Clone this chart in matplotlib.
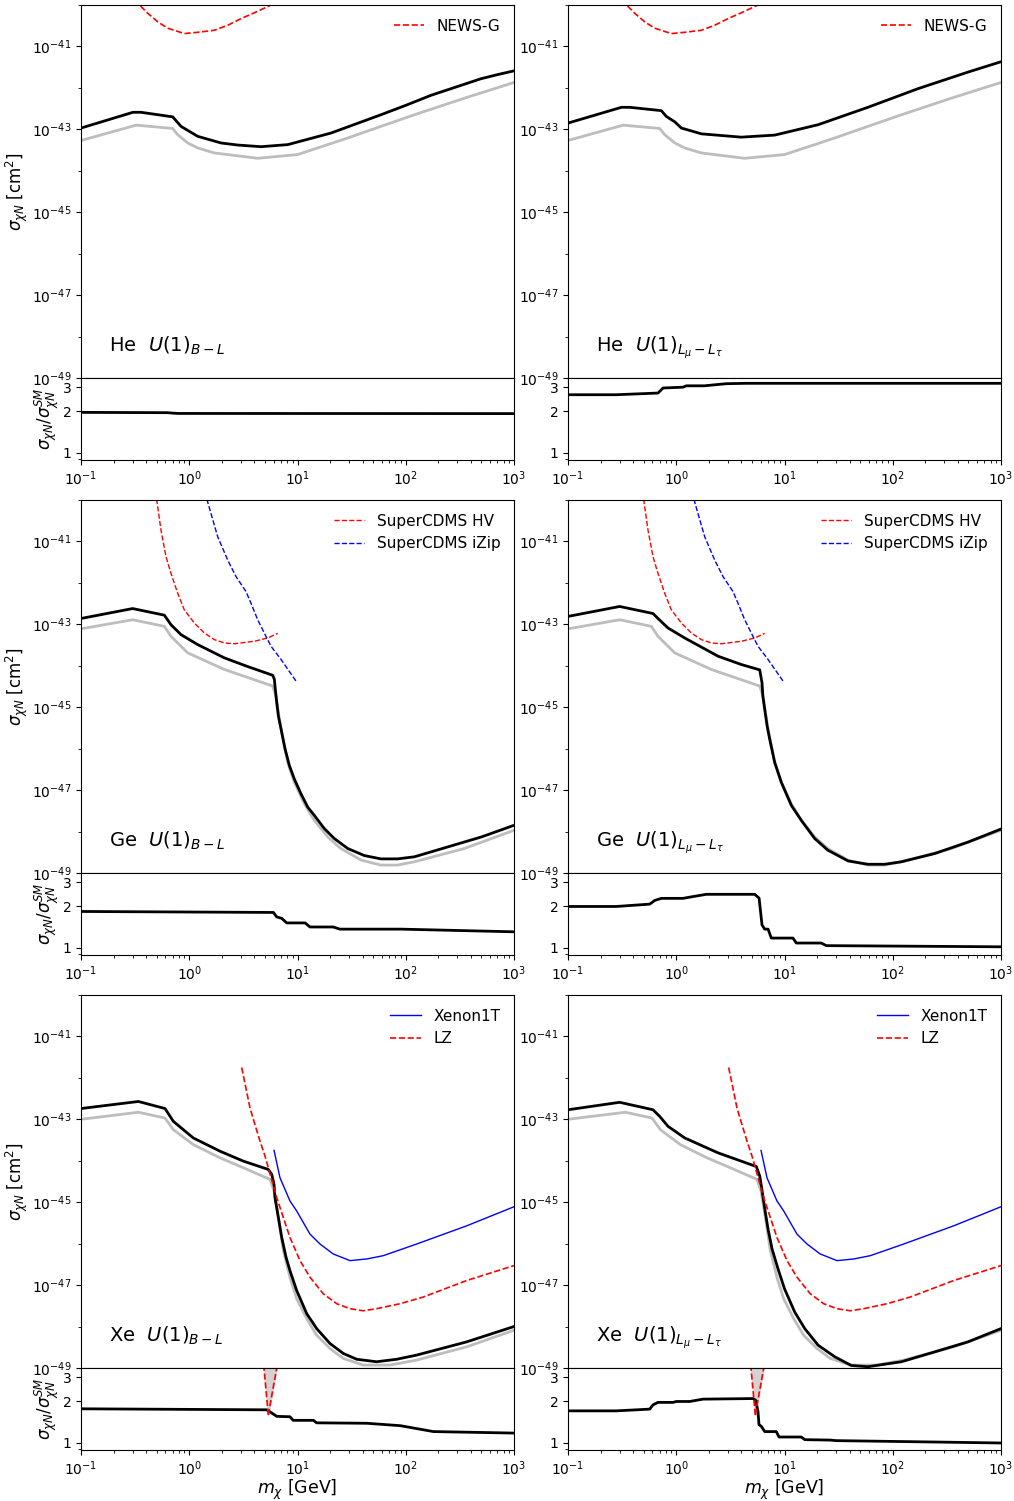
import numpy as np
import matplotlib
matplotlib.use('Agg')
import matplotlib.pyplot as plt
from matplotlib.gridspec import GridSpec
from matplotlib.ticker import NullFormatter, FixedLocator

# all curves stored as log10(m / GeV), log10(sigma / cm^2)

# ---- He ----
he_sm_logm = [-1.0, -0.49, -0.153, -0.107, -0.014, 0.078, 0.23, 0.632, 1.0, 1.464, 1.77, 2.08, 2.541, 3.0]
he_sm_logs = [-43.27, -42.90, -42.98, -43.13, -43.33, -43.45, -43.57, -43.70, -43.61, -43.21, -42.93, -42.65, -42.25, -41.87]

he_bl_logm = [-1.0, -0.52, -0.446, -0.153, -0.076, 0.078, 0.293, 0.447, 0.663, 0.91, 1.31, 1.54, 1.77, 2.002,
              2.233, 2.464, 2.695, 2.849, 3.0]
he_bl_logs = [-42.97, -42.59, -42.59, -42.70, -42.93, -43.17, -43.33, -43.38, -43.42, -43.37, -43.09, -42.87, -42.65, -42.42,
              -42.18, -41.98, -41.78, -41.68, -41.59]

he_lmt_logm = [-1.0, -0.507, -0.43, -0.138, -0.092, -0.014, 0.047, 0.232, 0.60, 0.91, 1.31, 1.77, 2.233, 2.695, 3.0]
he_lmt_logs = [-42.85, -42.47, -42.47, -42.55, -42.69, -42.82, -42.97, -43.11, -43.19, -43.14, -42.89, -42.47, -42.02, -41.62, -41.37]

newsg_logm = [-0.55, -0.452, -0.384, -0.29, -0.2, -0.046, 0.078, 0.232, 0.355, 0.478, 0.60, 0.74, 0.85]
newsg_logs = [-39.70, -40.02, -40.20, -40.41, -40.56, -40.69, -40.66, -40.61, -40.49, -40.33, -40.19, -40.02, -39.85]

he_bl_ratio_logm = [-1.0, -0.2, -0.15, -0.1, 3.0]
he_bl_ratio = [1.97, 1.96, 1.945, 1.935, 1.93]
he_lmt_ratio_logm = [-1.0, -0.554, -0.169, -0.122, 0.062, 0.093, 0.26, 0.46, 0.645, 3.0]
he_lmt_ratio = [2.645, 2.645, 2.72, 2.96, 3.0, 3.07, 3.07, 3.18, 3.2, 3.2]

# ---- Ge ----
ge_sm_logm = [-1.0, -0.523, -0.23, -0.169, -0.014, 0.324, 0.771, 0.80, 0.848, 0.909, 0.97, 1.063, 1.155,
              1.279, 1.40, 1.587, 1.77, 1.925, 2.08, 2.541, 3.0]
ge_sm_logs = [-43.11, -42.89, -43.05, -43.29, -43.69, -44.09, -44.49, -44.73, -45.53, -46.33, -46.81, -47.33, -47.73,
              -48.13, -48.41, -48.69, -48.81, -48.81, -48.73, -48.41, -47.97]

ge_bl_logm = [-1.0, -0.523, -0.23, -0.169, -0.076, 0.078, 0.324, 0.54, 0.771, 0.786, 0.795, 0.808, 0.823, 0.848,
              0.885, 0.925, 0.97, 1.032, 1.094, 1.155, 1.248, 1.34, 1.464, 1.617, 1.77, 1.925, 2.08, 2.39, 2.70, 3.0]
ge_bl_logs = [-42.86, -42.62, -42.78, -43.01, -43.25, -43.49, -43.81, -44.02, -44.23, -44.33, -44.57, -44.89, -45.21, -45.53,
              -46.01, -46.41, -46.73, -47.09, -47.41, -47.61, -47.93, -48.17, -48.41, -48.58, -48.66, -48.66, -48.61, -48.37, -48.13, -47.85]

ge_lmt_logm = [-1.0, -0.523, -0.215, -0.153, -0.076, 0.078, 0.386, 0.60, 0.771, 0.792, 0.80, 0.817, 0.839, 0.863,
               0.909, 0.97, 1.063, 1.155, 1.279, 1.40, 1.587, 1.77, 1.925, 2.08, 2.39, 2.70, 3.0]
ge_lmt_logs = [-42.81, -42.57, -42.74, -42.90, -43.09, -43.33, -43.77, -43.97, -44.10, -44.41, -44.73, -45.05, -45.45, -45.77,
               -46.33, -46.81, -47.37, -47.73, -48.17, -48.45, -48.71, -48.79, -48.79, -48.73, -48.53, -48.25, -47.94]

cdms_hv_logm = [-0.305, -0.298, -0.261, -0.215, -0.169, -0.107, -0.046, 0.047, 0.139, 0.232, 0.324, 0.416, 0.60, 0.725, 0.817]
cdms_hv_logs = [-39.80, -40.05, -40.73, -41.37, -41.77, -42.25, -42.65, -42.97, -43.21, -43.37, -43.45, -43.47, -43.41, -43.33, -43.22]

cdms_izip_logm = [0.16, 0.17, 0.263, 0.355, 0.432, 0.524, 0.57, 0.632, 0.693, 0.755, 0.848, 0.986]
cdms_izip_logs = [-39.80, -40.05, -40.89, -41.45, -41.85, -42.21, -42.49, -42.89, -43.21, -43.53, -43.85, -44.37]

ge_bl_ratio_logm = [-1.0, 0.777, 0.808, 0.854, 0.90, 1.07, 1.115, 1.33, 1.39, 1.95, 3.0]
ge_bl_ratio = [1.84, 1.81, 1.68, 1.64, 1.52, 1.52, 1.42, 1.42, 1.37, 1.37, 1.31]
ge_lmt_ratio_logm = [-1.0, -0.554, -0.245, -0.2, -0.138, 0.062, 0.155, 0.278, 0.725, 0.765, 0.777, 0.792,
                     0.817, 0.848, 0.878, 1.078, 1.109, 1.34, 1.386, 3.0]
ge_lmt_ratio = [2.0, 2.0, 2.08, 2.21, 2.29, 2.29, 2.36, 2.45, 2.45, 2.30, 1.89, 1.47,
                1.37, 1.37, 1.18, 1.18, 1.086, 1.086, 1.04, 1.02]

# ---- Xe ----
xe_sm_logm = [-1.0, -0.47, -0.224, -0.147, 0.037, 0.284, 0.5, 0.746, 0.783, 0.823, 0.869, 0.93, 0.992, 1.085,
              1.177, 1.30, 1.423, 1.608, 1.855, 2.10, 2.563, 3.0]
xe_sm_logs = [-43.0, -42.83, -42.97, -43.25, -43.61, -43.93, -44.17, -44.45, -44.73, -45.37, -46.17, -46.81, -47.33, -47.81,
              -48.21, -48.53, -48.77, -48.93, -48.93, -48.81, -48.49, -48.09]

xe_bl_logm = [-1.0, -0.47, -0.224, -0.147, 0.037, 0.284, 0.5, 0.73, 0.762, 0.783, 0.792, 0.823, 0.854, 0.894, 0.93,
              0.992, 1.085, 1.177, 1.30, 1.423, 1.547, 1.73, 1.916, 2.10, 2.563, 3.0]
xe_bl_logs = [-42.74, -42.57, -42.74, -43.05, -43.45, -43.77, -44.01, -44.21, -44.33, -44.57, -44.89, -45.37, -45.85, -46.33, -46.65,
              -47.13, -47.69, -48.05, -48.41, -48.65, -48.79, -48.85, -48.79, -48.69, -48.37, -48.0]

xe_lmt_logm = [-1.0, -0.523, -0.215, -0.153, -0.076, 0.078, 0.386, 0.74, 0.771, 0.786, 0.80, 0.823, 0.848, 0.885,
               0.94, 1.0, 1.094, 1.187, 1.31, 1.464, 1.617, 1.77, 1.925, 2.08, 2.39, 2.695, 3.0]
xe_lmt_logs = [-42.77, -42.59, -42.77, -42.93, -43.17, -43.45, -43.81, -44.14, -44.37, -44.61, -44.85, -45.25, -45.65, -46.13,
               -46.61, -47.09, -47.65, -48.05, -48.45, -48.73, -48.94, -48.97, -48.91, -48.85, -48.61, -48.37, -48.05]

lz_logm = [0.484, 0.53, 0.561, 0.607, 0.654, 0.70, 0.73, 0.808, 0.869, 0.93, 1.023, 1.115, 1.238, 1.362, 1.485,
           1.608, 1.73, 1.947, 2.16, 2.563, 3.0]
lz_logs = [-41.75, -42.33, -42.73, -43.13, -43.53, -43.89, -44.17, -44.89, -45.37, -45.85, -46.41, -46.81, -47.21, -47.45, -47.57,
           -47.62, -47.57, -47.45, -47.29, -46.89, -46.53]

xenon1t_logm = [0.783, 0.838, 0.93, 0.992, 1.115, 1.208, 1.33, 1.485, 1.64, 1.793, 2.10, 2.563, 3.0]
xenon1t_logs = [-43.75, -44.41, -44.97, -45.21, -45.77, -46.01, -46.25, -46.41, -46.37, -46.29, -46.01, -45.57, -45.11]

xe_bl_ratio_logm = [-1.0, 0.715, 0.762, 0.808, 0.93, 0.96, 1.146, 1.177, 1.64, 1.95, 2.255, 3.0]
xe_bl_ratio = [1.77, 1.74, 1.65, 1.56, 1.55, 1.46, 1.46, 1.40, 1.39, 1.335, 1.21, 1.18]
xe_lmt_ratio_logm = [-1.0, -0.554, -0.245, -0.215, -0.169, -0.03, 0.0, 0.124, 0.247, 0.709, 0.734, 0.755,
                     0.764, 0.786, 0.817, 0.924, 0.949, 1.155, 1.187, 1.418, 1.479, 2.25, 3.0]
xe_lmt_ratio = [1.71, 1.71, 1.76, 1.89, 1.97, 1.97, 2.0, 2.0, 2.08, 2.1, 2.04, 1.69,
                1.36, 1.32, 1.21, 1.21, 1.105, 1.105, 1.057, 1.05, 1.04, 1.02, 1.0]

# LZ edge band in the ratio panel
band_r = [1.6, 3.8]
band_m_lo = [5.37, 4.85]
band_m_hi = [5.37, 6.55]

panels = [
    # (element, sm, [(label, logm, logs, ratio_logm, ratio)], experiments, band)
    ('He', (he_sm_logm, he_sm_logs),
     [(r'$U(1)_{B-L}$', he_bl_logm, he_bl_logs, he_bl_ratio_logm, he_bl_ratio),
      (r'$U(1)_{L_\mu-L_\tau}$', he_lmt_logm, he_lmt_logs, he_lmt_ratio_logm, he_lmt_ratio)],
     [('NEWS-G', newsg_logm, newsg_logs, 'r', '--', 1.2)], False),
    ('Ge', (ge_sm_logm, ge_sm_logs),
     [(r'$U(1)_{B-L}$', ge_bl_logm, ge_bl_logs, ge_bl_ratio_logm, ge_bl_ratio),
      (r'$U(1)_{L_\mu-L_\tau}$', ge_lmt_logm, ge_lmt_logs, ge_lmt_ratio_logm, ge_lmt_ratio)],
     [('SuperCDMS HV', cdms_hv_logm, cdms_hv_logs, 'r', '--', 1.0),
      ('SuperCDMS iZip', cdms_izip_logm, cdms_izip_logs, 'b', '--', 1.0)], False),
    ('Xe', (xe_sm_logm, xe_sm_logs),
     [(r'$U(1)_{B-L}$', xe_bl_logm, xe_bl_logs, xe_bl_ratio_logm, xe_bl_ratio),
      (r'$U(1)_{L_\mu-L_\tau}$', xe_lmt_logm, xe_lmt_logs, xe_lmt_ratio_logm, xe_lmt_ratio)],
     [('Xenon1T', xenon1t_logm, xenon1t_logs, 'b', '-', 1.0),
      ('LZ', lz_logm, lz_logs, 'r', '--', 1.2)], True),
]

fig = plt.figure(figsize=(10.14, 15.01), dpi=100)
gs = GridSpec(8, 2, figure=fig, height_ratios=[373, 82, 40, 373, 82, 40, 373, 82],
              hspace=0, wspace=0.1247, left=0.0799, right=0.9872, top=0.9967, bottom=0.034)

for i, (elem, sm, models, exps, band) in enumerate(panels):
    for j, (mlabel, logm, logs, rlogm, rvals) in enumerate(models):
        ax = fig.add_subplot(gs[3 * i, j])
        axr = fig.add_subplot(gs[3 * i + 1, j], sharex=ax)

        ax.plot(10 ** np.array(sm[0]), 10 ** np.array(sm[1]), color='#bdbdbd', lw=2)
        ax.plot(10 ** np.array(logm), 10 ** np.array(logs), color='k', lw=2)
        for name, em, es, c, ls, lw in exps:
            ax.plot(10 ** np.array(em), 10 ** np.array(es), color=c, ls=ls, lw=lw, label=name)
        ax.set_xscale('log')
        ax.set_yscale('log')
        ax.set_xlim(0.1, 1000)
        ax.set_ylim(1e-49, 1e-40)
        ax.yaxis.set_major_locator(FixedLocator([1e-49, 1e-47, 1e-45, 1e-43, 1e-41]))
        ax.yaxis.set_minor_locator(FixedLocator([1e-48, 1e-46, 1e-44, 1e-42, 1e-40]))
        ax.yaxis.set_minor_formatter(NullFormatter())
        ax.tick_params(labelbottom=False)
        ax.legend(loc='upper right', frameon=False, fontsize=11)
        ax.text(0.065, 0.071, elem + '  ' + mlabel, transform=ax.transAxes, fontsize=14)

        axr.plot(10 ** np.array(rlogm), rvals, color='k', lw=2)
        if band:
            axr.fill_betweenx(band_r, band_m_lo, band_m_hi, color='lightgray')
            axr.plot(band_m_lo, band_r, 'r--', lw=1.2)
            axr.plot(band_m_hi, band_r, 'r--', lw=1.2)
        axr.set_yscale('log')
        axr.set_ylim(0.89, 3.5)
        axr.set_yticks([1, 2, 3])
        axr.set_yticklabels(['1', '2', '3'])
        axr.yaxis.set_minor_formatter(NullFormatter())
        axr.set_xlim(0.1, 1000)

        if j == 0:
            ax.set_ylabel(r'$\sigma_{\chi N}$ [cm$^2$]', fontsize=12, labelpad=1)
            axr.set_ylabel(r'$\sigma_{\chi N}/\sigma_{\chi N}^{SM}$', fontsize=12, labelpad=1)
        if i == 2:
            axr.set_xlabel(r'$m_\chi$ [GeV]', fontsize=12.5, labelpad=0)

plt.savefig('out.png', dpi=100)
